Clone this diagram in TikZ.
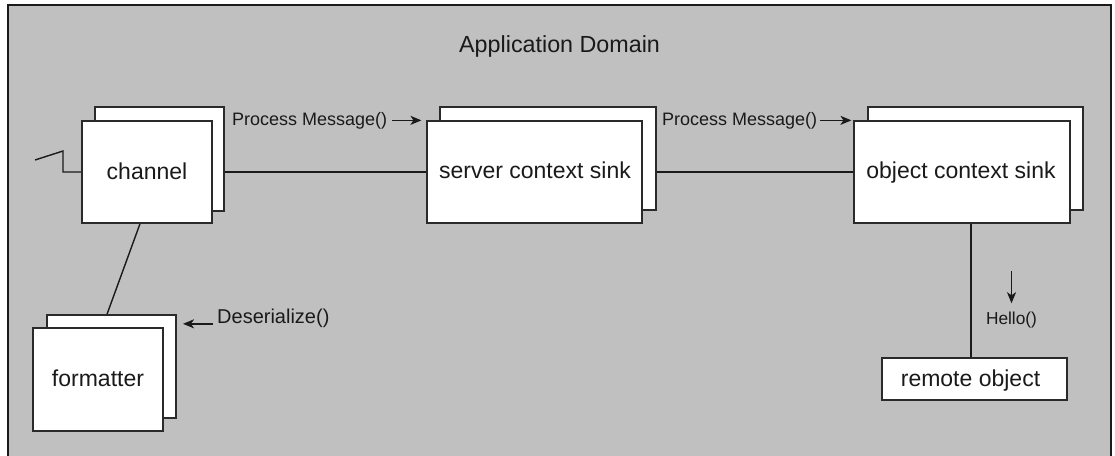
\documentclass[tikz,border=0pt]{standalone}
\usepackage{fontspec}
\setmainfont{Liberation Sans}
\usetikzlibrary{arrows.meta,backgrounds}
\definecolor{bggray}{HTML}{C0C0C0}
\definecolor{inkc}{HTML}{1A1A1A}
\definecolor{boxc}{HTML}{2A2A2A}
\begin{document}
\begin{tikzpicture}[x=1pt,y=-1pt,
  sheet/.style={draw=boxc, fill=white, line width=1.5pt, inner sep=0pt},
  conn/.style={draw=inkc, line width=1.4pt},
  arr/.style={draw=inkc, line width=1.4pt, -{Stealth[length=11pt,width=9pt,inset=3pt]}},
  big/.style={inner sep=0pt, text=inkc, font=\fontsize{23}{26}\selectfont},
  small/.style={inner sep=0pt, text=inkc, font=\fontsize{18}{21}\selectfont}]
\useasboundingbox (0,0) rectangle (1115,455);
\begin{scope}[on background layer]
  \filldraw[fill=bggray, draw=inkc, line width=2pt] (7.5,5) rectangle (1111,470);
\end{scope}
% title
\node[big, anchor=base west, font=\fontsize{23.3}{26}\selectfont] (title) at (459,52) {Application Domain};
% boxes
\node[sheet, minimum width=129pt, minimum height=104pt] (chanB) at (159.5,159) {};
\node[sheet, minimum width=130pt, minimum height=102pt] (chanF) at (147,172) {};
\node[sheet, minimum width=216pt, minimum height=103pt] (servB) at (548,158.5) {};
\node[sheet, minimum width=215pt, minimum height=102pt] (servF) at (534.5,172) {};
\node[sheet, minimum width=215pt, minimum height=103pt] (objB) at (975.5,158.5) {};
\node[sheet, minimum width=216pt, minimum height=102pt] (objF) at (962,172) {};
\node[sheet, minimum width=129pt, minimum height=103pt] (fmtB) at (111.5,366.5) {};
\node[sheet, minimum width=130pt, minimum height=103pt] (fmtF) at (98,379.5) {};
\node[sheet, minimum width=185pt, minimum height=42pt] (remote) at (974.5,379) {};
% box texts
\node[big, anchor=base] (tchan) at (147,179) {channel};
\node[big, anchor=base] (tserv) at (535,178) {server context sink};
\node[big, anchor=base] (tobj) at (961,178) {object context sink};
\node[big, anchor=base] (tfmt) at (98,386) {formatter};
\node[big, anchor=base] (trem) at (970.5,386) {remote object};
% message labels
\node[small, anchor=base west] (pm1) at (232,125) {Process Message()};
\node[small, anchor=base west] (pm2) at (662,125) {Process Message()};
\node[small, anchor=base, font=\fontsize{17.3}{20}\selectfont] (hello) at (1011.5,324) {Hello()};
\node[small, anchor=base west, font=\fontsize{20}{23}\selectfont] (des) at (217,323) {Deserialize()};
% connectors (behind the sheets)
\coordinate (z1) at (35,160);
\coordinate (z2) at (63,151);
\begin{scope}[on background layer]
  \draw[conn] (chanF.center) -- (servF.center);
  \draw[conn] (servF.center) -- (objF.center);
  \draw[conn] (z1) -- (z2) -- (z2 |- chanF.center) -- (chanF.center);
  \draw[conn] ([xshift=-7pt]chanF.south) -- ([xshift=-4.5pt]fmtB.north);
  \draw[conn] ([xshift=9pt]objF.center) -- ([xshift=9pt]objF.center |- remote.north);
\end{scope}
% arrows
\draw[arr] ([xshift=5pt]pm1.east) -- ++(29,0);
\draw[arr] ([xshift=3pt]pm2.east) -- ++(31,0);
\draw[arr] ([yshift=40pt]hello.north) -- ([yshift=8pt]hello.north);
\draw[arr] ([xshift=-4pt,yshift=-6pt]des.west) -- ++(-30,0);
\end{tikzpicture}
\end{document}
